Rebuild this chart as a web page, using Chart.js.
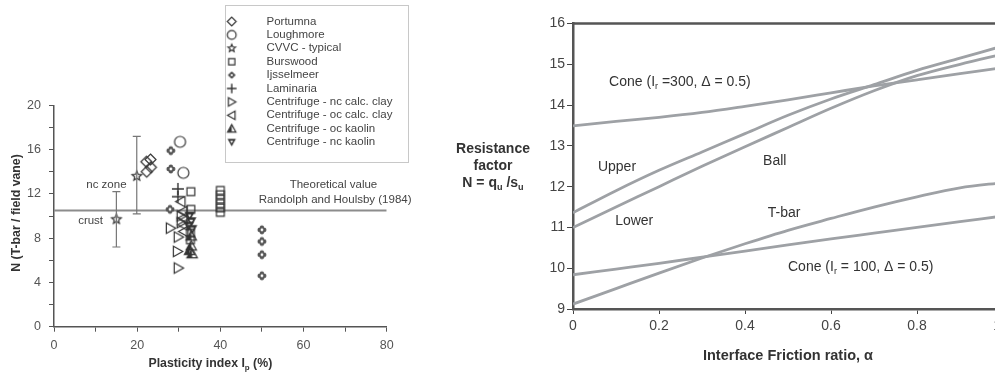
<!DOCTYPE html>
<html>
<head>
<meta charset="utf-8">
<script src="https://cdn.jsdelivr.net/npm/chart.js@4.4.1/dist/chart.umd.min.js"></script>
<style>
  html, body { margin: 0; padding: 0; background: #fff; overflow: hidden; }
  #left { position: absolute; left: 0; top: 0; }
  #right { position: absolute; left: 420px; top: 0; }
</style>
</head>
<body>
<canvas id="left" width="420" height="376"></canvas>
<canvas id="right" width="600" height="376"></canvas>
<script>
// ---------- left panel: N factor vs plasticity index ----------
const portumnaIp = [22.2, 23.2, 23.3, 22.3];
const portumnaN = [14.9, 15.1, 14.4, 14.0];
const loughmoreIp = [30.3, 31.1];
const loughmoreN = [16.7, 13.9];
const cvvcIp = [15.0, 19.9];
const cvvcN = [9.7, 13.6];
const cvvcLow = [7.2, 10.2];
const cvvcHigh = [12.2, 17.2];
const burswoodIp = [40, 40, 40, 40, 40, 40, 32.9, 32.9, 32.8, 32.8];
const burswoodN = [10.33, 10.73, 11.12, 11.52, 11.92, 12.31, 12.2, 10.6, 8.45, 7.85];
const ijsselIp = [28.1, 28.1, 27.9, 50, 50, 50, 50];
const ijsselN = [15.9, 14.25, 10.6, 8.75, 7.7, 6.5, 4.6];
const laminariaIp = [29.8, 29.8];
const laminariaN = [12.45, 11.75];
const ncCalcIp = [28.0, 29.9, 29.7, 29.9, 30.6, 30.6];
const ncCalcN = [8.9, 8.1, 6.8, 5.3, 10.0, 9.4];
const ocCalcIp = [30.5, 31.0, 31.0, 31.0, 31.2];
const ocCalcN = [11.3, 10.4, 9.8, 9.2, 8.6];
const ocKaolinIp = [33.0, 33.0, 32.6, 33.2];
const ocKaolinN = [8.2, 7.3, 6.9, 6.6];
const ncKaolinIp = [32.6, 33.0, 32.4, 33.2];
const ncKaolinN = [10.0, 9.5, 9.1, 8.8];
const theoryIp = [0, 80];
const theoryN = [10.5, 10.5];

// ---------- right panel: resistance factor vs interface friction ----------
const alpha = [0, 0.1, 0.2, 0.3, 0.4, 0.5, 0.6, 0.7, 0.8, 0.9, 1.0];
const cone300 = [13.49, 13.6, 13.7, 13.82, 13.97, 14.13, 14.3, 14.47, 14.62, 14.77, 14.92];
const ballUpper = [11.36, 11.9, 12.4, 12.85, 13.3, 13.75, 14.15, 14.5, 14.85, 15.15, 15.45];
const ballLower = [11.0, 11.5, 12.0, 12.5, 12.98, 13.45, 13.92, 14.35, 14.72, 15.0, 15.25];
const tBar = [9.12, 9.5, 9.88, 10.25, 10.6, 10.93, 11.22, 11.5, 11.75, 11.97, 12.1];
const cone100 = [9.84, 9.98, 10.12, 10.27, 10.42, 10.57, 10.72, 10.86, 11.0, 11.14, 11.28];

const FONT = '"Liberation Sans", Arial, sans-serif';

// text with optional subscript pieces: runs = [[text, isSub], ...]
function drawRuns(ctx, runs, x, y, size, weight, align, color) {
  const fontOf = s => `${weight} ${s}px ${FONT}`;
  const widths = runs.map(([t, sub]) => {
    ctx.font = fontOf(sub ? size * 0.65 : size);
    return ctx.measureText(t).width;
  });
  const total = widths.reduce((a, b) => a + b, 0);
  let cx = align === 'center' ? x - total / 2 : align === 'right' ? x - total : x;
  ctx.save();
  ctx.fillStyle = color || '#333';
  ctx.textAlign = 'left';
  ctx.textBaseline = 'middle';
  runs.forEach(([t, sub], i) => {
    ctx.font = fontOf(sub ? size * 0.65 : size);
    ctx.fillText(t, cx, sub ? y + size * 0.32 : y);
    cx += widths[i];
  });
  ctx.restore();
}

// small canvases used as point styles
function marker(kind, r) {
  const s = Math.ceil(r * 2 + 4);
  const c = document.createElement('canvas');
  c.width = c.height = s;
  const g = c.getContext('2d');
  const m = s / 2;
  g.strokeStyle = '#333';
  g.fillStyle = '#333';
  g.lineWidth = 1.2;
  g.beginPath();
  if (kind === 'diamond') {
    g.moveTo(m, m - r); g.lineTo(m + r, m); g.lineTo(m, m + r); g.lineTo(m - r, m); g.closePath(); g.stroke();
  } else if (kind === 'circle') {
    g.arc(m, m, r, 0, Math.PI * 2); g.stroke();
  } else if (kind === 'star') {
    for (let i = 0; i < 10; i++) {
      const a = -Math.PI / 2 + i * Math.PI / 5;
      const rr = i % 2 ? r * 0.45 : r;
      g.lineTo(m + rr * Math.cos(a), m + rr * Math.sin(a));
    }
    g.closePath(); g.stroke();
  } else if (kind === 'square') {
    const h = r * 0.85;
    g.rect(m - h, m - h, h * 2, h * 2); g.stroke();
  } else if (kind === 'quatre') {
    g.fillStyle = '#555';
    [[0, -1], [1, 0], [0, 1], [-1, 0]].forEach(([dx, dy]) => {
      g.beginPath(); g.arc(m + dx * r * 0.5, m + dy * r * 0.5, r * 0.48, 0, Math.PI * 2); g.fill();
    });
    g.fillStyle = '#fff';
    g.beginPath(); g.arc(m, m, r * 0.3, 0, Math.PI * 2); g.fill();
  } else if (kind === 'plus') {
    g.lineWidth = 1.4;
    g.moveTo(m - r, m); g.lineTo(m + r, m); g.moveTo(m, m - r); g.lineTo(m, m + r); g.stroke();
  } else if (kind === 'triRight') {
    g.moveTo(m - r * 0.8, m - r); g.lineTo(m + r, m); g.lineTo(m - r * 0.8, m + r); g.closePath(); g.stroke();
  } else if (kind === 'triLeft') {
    g.moveTo(m + r * 0.8, m - r); g.lineTo(m - r, m); g.lineTo(m + r * 0.8, m + r); g.closePath(); g.stroke();
  } else if (kind === 'triUp') {
    g.moveTo(m, m - r); g.lineTo(m + r, m + r * 0.8); g.lineTo(m - r, m + r * 0.8); g.closePath(); g.stroke();
    g.beginPath(); g.moveTo(m, m - r); g.lineTo(m, m + r * 0.8); g.lineTo(m - r, m + r * 0.8); g.closePath(); g.fill();
  } else if (kind === 'triDown') {
    g.moveTo(m - r, m - r * 0.8); g.lineTo(m + r, m - r * 0.8); g.lineTo(m, m + r); g.closePath(); g.fill();
    g.fillStyle = '#fff';
    g.beginPath(); g.moveTo(m - r * 0.35, m - r * 0.35); g.lineTo(m + r * 0.35, m - r * 0.35); g.lineTo(m, m + r * 0.3); g.closePath(); g.fill();
  }
  return c;
}

const pts = (xs, ys) => xs.map((x, i) => ({ x, y: ys[i] }));

const soils = [
  { label: 'Portumna', kind: 'diamond', r: 5.5, xs: portumnaIp, ys: portumnaN },
  { label: 'Loughmore', kind: 'circle', r: 5.5, xs: loughmoreIp, ys: loughmoreN },
  { label: 'CVVC - typical', kind: 'star', r: 5, xs: cvvcIp, ys: cvvcN },
  { label: 'Burswood', kind: 'square', r: 4.6, xs: burswoodIp, ys: burswoodN },
  { label: 'Ijsselmeer', kind: 'quatre', r: 4.6, xs: ijsselIp, ys: ijsselN },
  { label: 'Laminaria', kind: 'plus', r: 6, xs: laminariaIp, ys: laminariaN },
  { label: 'Centrifuge - nc calc. clay', kind: 'triRight', r: 5.2, xs: ncCalcIp, ys: ncCalcN },
  { label: 'Centrifuge - oc calc. clay', kind: 'triLeft', r: 5.2, xs: ocCalcIp, ys: ocCalcN },
  { label: 'Centrifuge - oc kaolin', kind: 'triUp', r: 5.2, xs: ocKaolinIp, ys: ocKaolinN },
  { label: 'Centrifuge - nc kaolin', kind: 'triDown', r: 5.2, xs: ncKaolinIp, ys: ncKaolinN }
];
soils.forEach(s => { s.img = marker(s.kind, s.r); s.legendImg = marker(s.kind, s.r * 0.8); });

// error bars, labels, titles and the legend box of the left panel
const leftDecor = {
  id: 'leftDecor',
  afterDatasetsDraw(chart) {
    const { ctx, scales: { x, y }, chartArea } = chart;
    ctx.save();
    ctx.strokeStyle = '#777';
    ctx.lineWidth = 1.2;
    cvvcIp.forEach((ip, i) => {
      const px = x.getPixelForValue(ip);
      const lo = y.getPixelForValue(cvvcLow[i]);
      const hi = y.getPixelForValue(cvvcHigh[i]);
      ctx.beginPath();
      ctx.moveTo(px, lo); ctx.lineTo(px, hi);
      ctx.moveTo(px - 4, lo); ctx.lineTo(px + 4, lo);
      ctx.moveTo(px - 4, hi); ctx.lineTo(px + 4, hi);
      ctx.stroke();
    });
    ctx.restore();

    const txt = (t, vx, vy, align) => drawRuns(ctx, [[t]], x.getPixelForValue(vx), y.getPixelForValue(vy), 11.5, 'normal', align, '#444');
    txt('nc zone', 12.6, 12.8, 'center');
    txt('crust', 8.8, 9.55, 'center');
    txt('Theoretical value', 67.2, 12.8, 'center');
    txt('Randolph and Houlsby (1984)', 67.6, 11.45, 'center');

    // axis titles
    drawRuns(ctx, [['Plasticity index I'], ['p', true], [' (%)']], (chartArea.left + chartArea.right) / 2 - 10, 364, 12.3, 'bold', 'center', '#333');
    ctx.save();
    ctx.translate(chartArea.left - 37, (chartArea.top + chartArea.bottom) / 2 - 3);
    ctx.rotate(-Math.PI / 2);
    drawRuns(ctx, [['N (T-bar / field vane)']], 0, 0, 12.3, 'bold', 'center', '#333');
    ctx.restore();

    // legend
    const bx = 225, by = 5, bw = 183, bh = 157;
    ctx.save();
    ctx.fillStyle = '#fff';
    ctx.fillRect(bx, by, bw, bh);
    ctx.strokeStyle = '#c8c8c8';
    ctx.lineWidth = 1;
    ctx.strokeRect(bx + 0.5, by + 0.5, bw, bh);
    soils.forEach((s, i) => {
      const ry = by + 16.5 + i * 13.4;
      const im = s.legendImg;
      ctx.drawImage(im, 231.7 - im.width / 2, ry - im.height / 2);
      drawRuns(ctx, [[s.label]], 266.5, ry, 11.5, 'normal', 'left', '#444');
    });
    ctx.restore();
  }
};

const leftDatasets = soils.map(s => ({
  label: s.label,
  data: pts(s.xs, s.ys),
  pointStyle: s.img,
  pointRadius: 4
}));
leftDatasets.push({
  label: 'Theoretical value',
  data: pts(theoryIp, theoryN),
  showLine: true,
  pointRadius: 0,
  borderColor: '#8c8c8c',
  borderWidth: 2
});

const tickFontL = { family: FONT, size: 12.5 };

new Chart(document.getElementById('left'), {
  type: 'scatter',
  data: { datasets: leftDatasets },
  options: {
    responsive: false,
    animation: false,
    layout: { padding: { left: 0, right: 33.3, top: 105.3, bottom: 0 } },
    plugins: { legend: { display: false }, tooltip: { enabled: false } },
    scales: {
      x: {
        type: 'linear', min: 0, max: 80,
        ticks: { stepSize: 10, color: '#555', font: tickFontL, padding: 6, maxRotation: 0,
          callback: v => (v % 20 === 0 ? v : '') },
        grid: { drawOnChartArea: false, tickLength: 5, color: '#555' },
        border: { color: '#555', width: 1.5 },
        afterFit(s) { s.height = 49.3; }
      },
      y: {
        min: 0, max: 20,
        ticks: { stepSize: 2, color: '#555', font: tickFontL, padding: 8,
          callback: v => (v % 4 === 0 ? v : '') },
        grid: { drawOnChartArea: false, tickLength: 5, color: '#555' },
        border: { color: '#555', width: 1.5 },
        afterFit(s) { s.width = 54; }
      }
    }
  },
  plugins: [leftDecor]
});

// ---------- right panel ----------
const curves = [cone300, ballUpper, ballLower, tBar, cone100];

const rightDecor = {
  id: 'rightDecor',
  afterDraw(chart) {
    const { ctx, scales: { x, y }, chartArea } = chart;
    ctx.save();
    ctx.strokeStyle = '#555';
    ctx.lineWidth = 2.5;
    ctx.beginPath();
    ctx.moveTo(chartArea.left, chartArea.top);
    ctx.lineTo(chartArea.right, chartArea.top);
    ctx.lineTo(chartArea.right, chartArea.bottom);
    ctx.stroke();
    ctx.restore();

    const lab = (runs, vx, vy) => drawRuns(ctx, runs, x.getPixelForValue(vx), y.getPixelForValue(vy), 14, 'normal', 'left', '#333');
    lab([['Cone (I'], ['r', true], [' =300, Δ = 0.5)']], 0.084, 14.57);
    lab([['Upper']], 0.058, 12.48);
    lab([['Lower']], 0.098, 11.16);
    lab([['Ball']], 0.442, 12.63);
    lab([['T-bar']], 0.453, 11.36);
    lab([['Cone (I'], ['r', true], [' = 100, Δ = 0.5)']], 0.5, 10.03);

    const tx = chartArea.left - 80;
    drawRuns(ctx, [['Resistance']], tx, 149, 14, 'bold', 'center', '#333');
    drawRuns(ctx, [['factor']], tx, 166, 14, 'bold', 'center', '#333');
    drawRuns(ctx, [['N = q'], ['u', true], [' /s'], ['u', true]], tx, 183, 14, 'bold', 'center', '#333');
    drawRuns(ctx, [['Interface Friction ratio, α']], (chartArea.left + chartArea.right) / 2, 356, 14.5, 'bold', 'center', '#333');
  }
};

const tickFontR = { family: FONT, size: 14 };

new Chart(document.getElementById('right'), {
  type: 'line',
  data: {
    datasets: curves.map(c => ({
      data: pts(alpha, c),
      borderColor: '#9ea1a5',
      borderWidth: 2.8,
      pointRadius: 0,
      cubicInterpolationMode: 'monotone'
    }))
  },
  options: {
    responsive: false,
    animation: false,
    layout: { padding: { left: 0, right: 17, top: 23.5, bottom: 0 } },
    plugins: { legend: { display: false }, tooltip: { enabled: false } },
    scales: {
      x: {
        type: 'linear', min: 0, max: 1,
        ticks: { stepSize: 0.2, color: '#444', font: tickFontR, padding: 4, maxRotation: 0 },
        grid: { drawOnChartArea: false, tickLength: 5, color: '#444' },
        border: { color: '#555', width: 2.5 },
        afterFit(s) { s.height = 67; }
      },
      y: {
        min: 9, max: 16,
        ticks: { stepSize: 1, color: '#444', font: tickFontR, padding: 2 },
        grid: { drawOnChartArea: false, tickLength: 6, color: '#444' },
        border: { color: '#555', width: 2.5 },
        afterFit(s) { s.width = 153; }
      }
    }
  },
  plugins: [rightDecor]
});
</script>
</body>
</html>
